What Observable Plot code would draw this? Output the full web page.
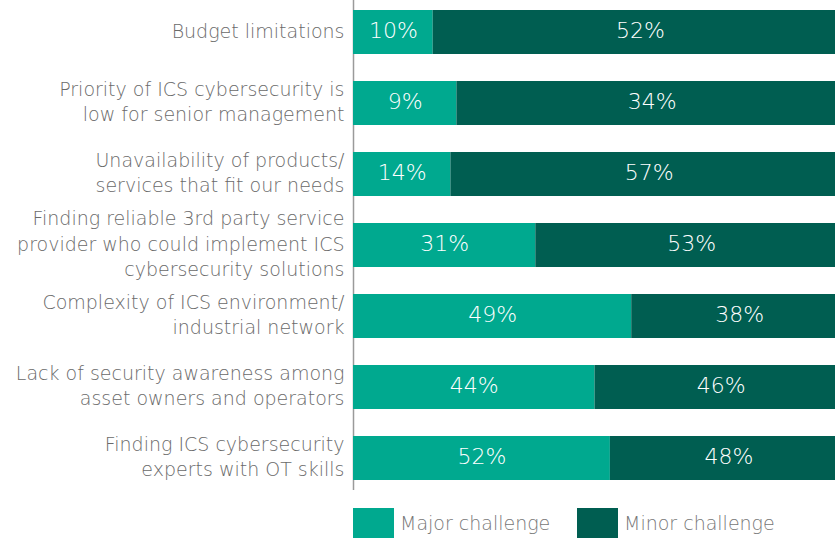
<!DOCTYPE html>
<html>
<head>
<meta charset="utf-8">
<script src="https://cdn.jsdelivr.net/npm/d3@7"></script>
<script src="https://cdn.jsdelivr.net/npm/@observablehq/plot@0.6"></script>
<style>
  html, body { margin: 0; padding: 0; background: #fff; overflow: hidden; }
  #chart { width: 835px; }
  .legend { display: flex; align-items: center; margin-left: 353px; margin-top: 18px; font-family: "DejaVu Sans", sans-serif; font-weight: 200; font-size: 19px; color: #777; }
  .legend .item { display: flex; align-items: center; }
  .legend .item:first-child { width: 224px; }
  .legend .sw { width: 41px; height: 30px; margin-right: 6px; }
</style>
</head>
<body>
<div id="chart"></div>
<script>
const categories = [
  "Budget limitations",
  "Priority of ICS cybersecurity is\nlow for senior management",
  "Unavailability of products/\nservices that fit our needs",
  "Finding reliable 3rd party service\nprovider who could implement ICS\ncybersecurity solutions",
  "Complexity of ICS environment/\nindustrial network",
  "Lack of security awareness among\nasset owners and operators",
  "Finding ICS cybersecurity\nexperts with OT skills"
];
const majorChallenge = [10, 9, 14, 31, 49, 44, 52];
const minorChallenge = [52, 34, 57, 53, 38, 46, 48];
const seriesNames = ["Major challenge", "Minor challenge"];
const seriesColors = ["#00a98f", "#005e51"];

const data = [];
categories.forEach((c, i) => {
  data.push({cat: c, type: seriesNames[0], value: majorChallenge[i]});
  data.push({cat: c, type: seriesNames[1], value: minorChallenge[i]});
});

const chart = Plot.plot({
  width: 835,
  height: 490,
  marginTop: 0,
  marginBottom: 0,
  marginLeft: 353,
  marginRight: 0,
  style: {fontFamily: "DejaVu Sans, sans-serif", background: "transparent"},
  x: {domain: [0, 1], range: [353, 847], axis: null},
  y: {domain: categories, paddingInner: 0.383, paddingOuter: 0.126, label: null},
  color: {domain: seriesNames, range: seriesColors},
  marks: [
    Plot.axisY({tickSize: 0, tickPadding: 9, fontSize: 19, fontWeight: 200, lineHeight: 1.32, dy: -3, fill: "#6a6a6a", label: null}),
    Plot.ruleX([0], {stroke: "#9a9a9a", strokeWidth: 1.5, y1: null, y2: null}),
    Plot.barX(data, Plot.stackX({x: "value", y: "cat", fill: "type", order: null, offset: "normalize"})),
    Plot.text(data, Plot.stackX({x: "value", y: "cat", z: "type", order: null, offset: "normalize", text: d => d.value + "%", fill: "white", fontSize: 22, fontWeight: 200, dy: -2}))
  ]
});
document.getElementById("chart").appendChild(chart);

const legend = document.createElement("div");
legend.className = "legend";
seriesNames.forEach((n, i) => {
  const item = document.createElement("div");
  item.className = "item";
  const sw = document.createElement("div");
  sw.className = "sw";
  sw.style.background = seriesColors[i];
  const t = document.createElement("span");
  t.textContent = n;
  item.appendChild(sw);
  item.appendChild(t);
  legend.appendChild(item);
});
document.body.appendChild(legend);
</script>
</body>
</html>
